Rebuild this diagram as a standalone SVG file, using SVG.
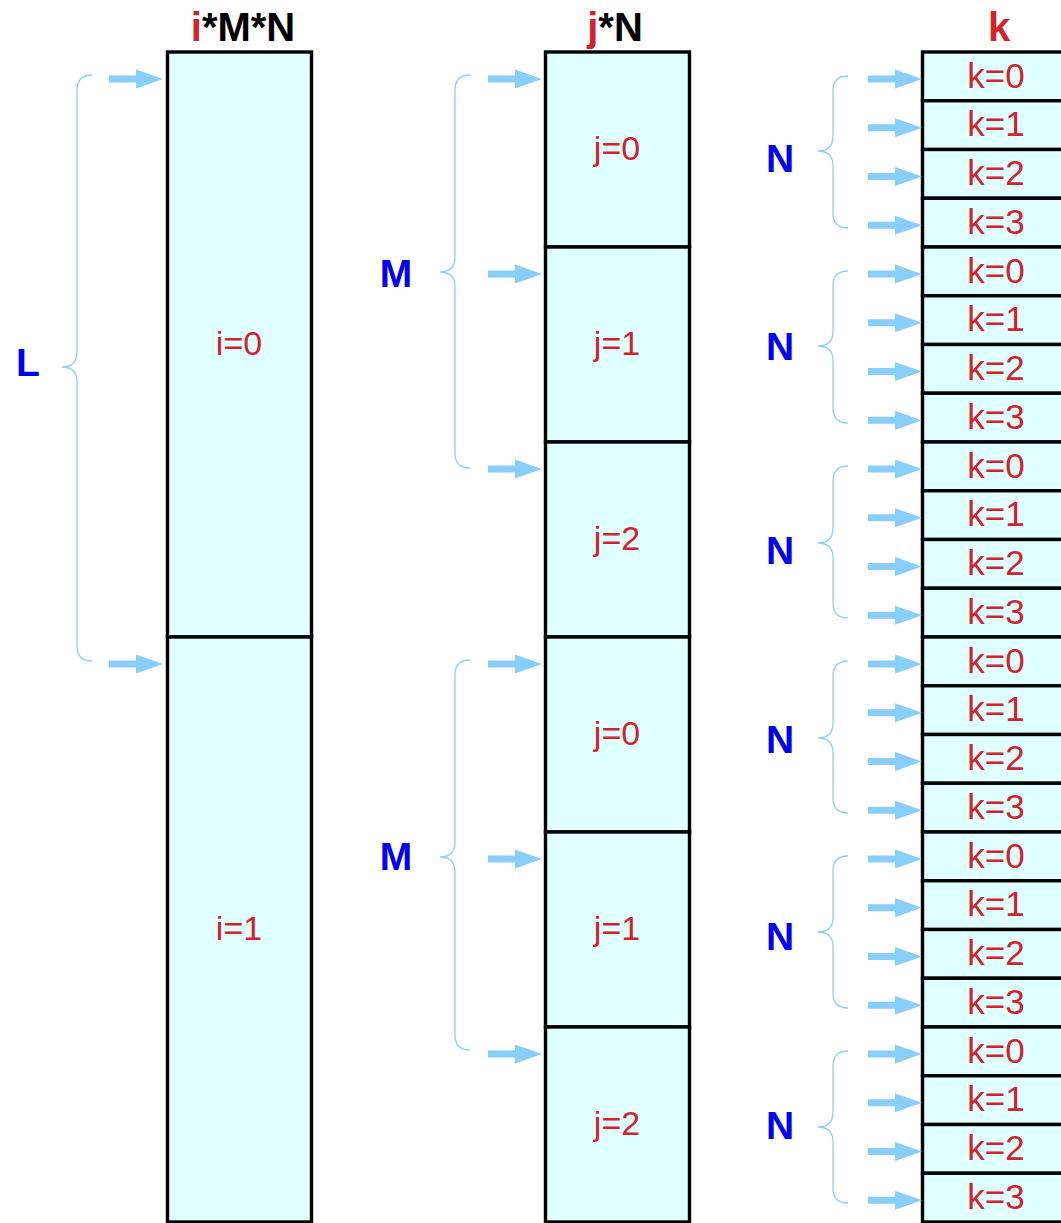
<svg xmlns="http://www.w3.org/2000/svg" xmlns:xlink="http://www.w3.org/1999/xlink" width="1061" height="1223" viewBox="0 0 1061 1223">
<style>
.cell{fill:#E0FFFF;stroke:#000;stroke-width:3.4}
.lbl{font-family:"Liberation Sans",Arial,sans-serif;fill:#D2222D;text-anchor:middle}
.ij{font-size:34px}
.k{font-size:35px}
.hd{font-family:"Liberation Sans",Arial,sans-serif;font-weight:bold;font-size:40px;text-anchor:middle;fill:#000}
.red{fill:#D2222D}
.cnt{font-family:"Liberation Sans",Arial,sans-serif;font-weight:bold;font-size:39px;text-anchor:middle;fill:#0000EE}
.brace{fill:none;stroke:#8ED0F8;stroke-width:1.3}
.arr{fill:#87CEFA}
</style>
<defs>
<path id="arr" class="arr" d="M-54,-3.5 H-27 V-9.5 L0,0 L-27,9.5 V3.5 H-54 Z"/>
</defs>
<g id="headers">
<text class="hd" x="243" y="41"><tspan class="red">i</tspan>*M*N</text>
<text class="hd" x="615" y="41"><tspan class="red">j</tspan>*N</text>
<text class="hd red" x="999" y="41">k</text>
</g>
<g id="col-i">
<g id="i0"><rect class="cell" x="167.5" y="52" width="144" height="585"/><text class="lbl ij" x="239" y="355">i=0</text></g>
<g id="i1"><rect class="cell" x="167.5" y="637" width="144" height="585"/><text class="lbl ij" x="239" y="940">i=1</text></g>
</g>
<g id="col-j">
<g id="j0a"><rect class="cell" x="545.5" y="52" width="144" height="195"/><text class="lbl ij" x="617" y="160">j=0</text></g>
<g id="j1a"><rect class="cell" x="545.5" y="247" width="144" height="195"/><text class="lbl ij" x="617" y="355">j=1</text></g>
<g id="j2a"><rect class="cell" x="545.5" y="442" width="144" height="195"/><text class="lbl ij" x="617" y="550">j=2</text></g>
<g id="j0b"><rect class="cell" x="545.5" y="637" width="144" height="195"/><text class="lbl ij" x="617" y="745">j=0</text></g>
<g id="j1b"><rect class="cell" x="545.5" y="832" width="144" height="195"/><text class="lbl ij" x="617" y="940">j=1</text></g>
<g id="j2b"><rect class="cell" x="545.5" y="1027" width="144" height="195"/><text class="lbl ij" x="617" y="1135">j=2</text></g>
</g>
<g id="col-k">
<g id="k00"><rect class="cell" x="922.5" y="52" width="160" height="48.75"/><text class="lbl k" x="996" y="87.5">k=0</text></g>
<g id="k01"><rect class="cell" x="922.5" y="100.75" width="160" height="48.75"/><text class="lbl k" x="996" y="136.25">k=1</text></g>
<g id="k02"><rect class="cell" x="922.5" y="149.5" width="160" height="48.75"/><text class="lbl k" x="996" y="185">k=2</text></g>
<g id="k03"><rect class="cell" x="922.5" y="198.25" width="160" height="48.75"/><text class="lbl k" x="996" y="233.75">k=3</text></g>
<g id="k10"><rect class="cell" x="922.5" y="247" width="160" height="48.75"/><text class="lbl k" x="996" y="282.5">k=0</text></g>
<g id="k11"><rect class="cell" x="922.5" y="295.75" width="160" height="48.75"/><text class="lbl k" x="996" y="331.25">k=1</text></g>
<g id="k12"><rect class="cell" x="922.5" y="344.5" width="160" height="48.75"/><text class="lbl k" x="996" y="380">k=2</text></g>
<g id="k13"><rect class="cell" x="922.5" y="393.25" width="160" height="48.75"/><text class="lbl k" x="996" y="428.75">k=3</text></g>
<g id="k20"><rect class="cell" x="922.5" y="442" width="160" height="48.75"/><text class="lbl k" x="996" y="477.5">k=0</text></g>
<g id="k21"><rect class="cell" x="922.5" y="490.75" width="160" height="48.75"/><text class="lbl k" x="996" y="526.25">k=1</text></g>
<g id="k22"><rect class="cell" x="922.5" y="539.5" width="160" height="48.75"/><text class="lbl k" x="996" y="575">k=2</text></g>
<g id="k23"><rect class="cell" x="922.5" y="588.25" width="160" height="48.75"/><text class="lbl k" x="996" y="623.75">k=3</text></g>
<g id="k30"><rect class="cell" x="922.5" y="637" width="160" height="48.75"/><text class="lbl k" x="996" y="672.5">k=0</text></g>
<g id="k31"><rect class="cell" x="922.5" y="685.75" width="160" height="48.75"/><text class="lbl k" x="996" y="721.25">k=1</text></g>
<g id="k32"><rect class="cell" x="922.5" y="734.5" width="160" height="48.75"/><text class="lbl k" x="996" y="770">k=2</text></g>
<g id="k33"><rect class="cell" x="922.5" y="783.25" width="160" height="48.75"/><text class="lbl k" x="996" y="818.75">k=3</text></g>
<g id="k40"><rect class="cell" x="922.5" y="832" width="160" height="48.75"/><text class="lbl k" x="996" y="867.5">k=0</text></g>
<g id="k41"><rect class="cell" x="922.5" y="880.75" width="160" height="48.75"/><text class="lbl k" x="996" y="916.25">k=1</text></g>
<g id="k42"><rect class="cell" x="922.5" y="929.5" width="160" height="48.75"/><text class="lbl k" x="996" y="965">k=2</text></g>
<g id="k43"><rect class="cell" x="922.5" y="978.25" width="160" height="48.75"/><text class="lbl k" x="996" y="1013.75">k=3</text></g>
<g id="k50"><rect class="cell" x="922.5" y="1027" width="160" height="48.75"/><text class="lbl k" x="996" y="1062.5">k=0</text></g>
<g id="k51"><rect class="cell" x="922.5" y="1075.75" width="160" height="48.75"/><text class="lbl k" x="996" y="1111.25">k=1</text></g>
<g id="k52"><rect class="cell" x="922.5" y="1124.5" width="160" height="48.75"/><text class="lbl k" x="996" y="1160">k=2</text></g>
<g id="k53"><rect class="cell" x="922.5" y="1173.25" width="160" height="48.75"/><text class="lbl k" x="996" y="1208.75">k=3</text></g>
</g>
<g id="counts">
<text class="cnt" x="28" y="376">L</text>
<text class="cnt" x="396" y="287">M</text>
<text class="cnt" x="396" y="870">M</text>
<text class="cnt" x="780" y="172">N</text>
<text class="cnt" x="780" y="360">N</text>
<text class="cnt" x="780" y="564">N</text>
<text class="cnt" x="780" y="753">N</text>
<text class="cnt" x="780" y="950">N</text>
<text class="cnt" x="780" y="1139">N</text>
</g>
<g id="braces">
<path class="brace" d="M92,75 Q77,75 77,90 V352 Q77,367 62,367 Q77,367 77,382 V646 Q77,661 92,661"/>
<path class="brace" d="M470,75 Q455,75 455,90 V257 Q455,272 440,272 Q455,272 455,287 V453 Q455,468 470,468"/>
<path class="brace" d="M470,660 Q455,660 455,675 V842 Q455,857 440,857 Q455,857 455,872 V1035 Q455,1050 470,1050"/>
<path class="brace" d="M848,76 Q833,76 833,91 V136 Q833,151 818,151 Q833,151 833,166 V213 Q833,228 848,228"/>
<path class="brace" d="M848,271 Q833,271 833,286 V331 Q833,346 818,346 Q833,346 833,361 V408 Q833,423 848,423"/>
<path class="brace" d="M848,466 Q833,466 833,481 V528 Q833,543 818,543 Q833,543 833,558 V603 Q833,618 848,618"/>
<path class="brace" d="M848,661 Q833,661 833,676 V723 Q833,738 818,738 Q833,738 833,753 V798 Q833,813 848,813"/>
<path class="brace" d="M848,856 Q833,856 833,871 V917 Q833,932 818,932 Q833,932 833,947 V993 Q833,1008 848,1008"/>
<path class="brace" d="M848,1051 Q833,1051 833,1066 V1112 Q833,1127 818,1127 Q833,1127 833,1142 V1188 Q833,1203 848,1203"/>
</g>
<g id="connectors">
<use xlink:href="#arr" x="163" y="79"/>
<use xlink:href="#arr" x="163" y="664"/>
<use xlink:href="#arr" x="542" y="79"/>
<use xlink:href="#arr" x="542" y="274"/>
<use xlink:href="#arr" x="542" y="469"/>
<use xlink:href="#arr" x="542" y="664"/>
<use xlink:href="#arr" x="542" y="859"/>
<use xlink:href="#arr" x="542" y="1054"/>
<use xlink:href="#arr" x="922" y="79"/>
<use xlink:href="#arr" x="922" y="127.75"/>
<use xlink:href="#arr" x="922" y="176.5"/>
<use xlink:href="#arr" x="922" y="225.25"/>
<use xlink:href="#arr" x="922" y="274"/>
<use xlink:href="#arr" x="922" y="322.75"/>
<use xlink:href="#arr" x="922" y="371.5"/>
<use xlink:href="#arr" x="922" y="420.25"/>
<use xlink:href="#arr" x="922" y="469"/>
<use xlink:href="#arr" x="922" y="517.75"/>
<use xlink:href="#arr" x="922" y="566.5"/>
<use xlink:href="#arr" x="922" y="615.25"/>
<use xlink:href="#arr" x="922" y="664"/>
<use xlink:href="#arr" x="922" y="712.75"/>
<use xlink:href="#arr" x="922" y="761.5"/>
<use xlink:href="#arr" x="922" y="810.25"/>
<use xlink:href="#arr" x="922" y="859"/>
<use xlink:href="#arr" x="922" y="907.75"/>
<use xlink:href="#arr" x="922" y="956.5"/>
<use xlink:href="#arr" x="922" y="1005.25"/>
<use xlink:href="#arr" x="922" y="1054"/>
<use xlink:href="#arr" x="922" y="1102.75"/>
<use xlink:href="#arr" x="922" y="1151.5"/>
<use xlink:href="#arr" x="922" y="1200.25"/>
</g>
</svg>
